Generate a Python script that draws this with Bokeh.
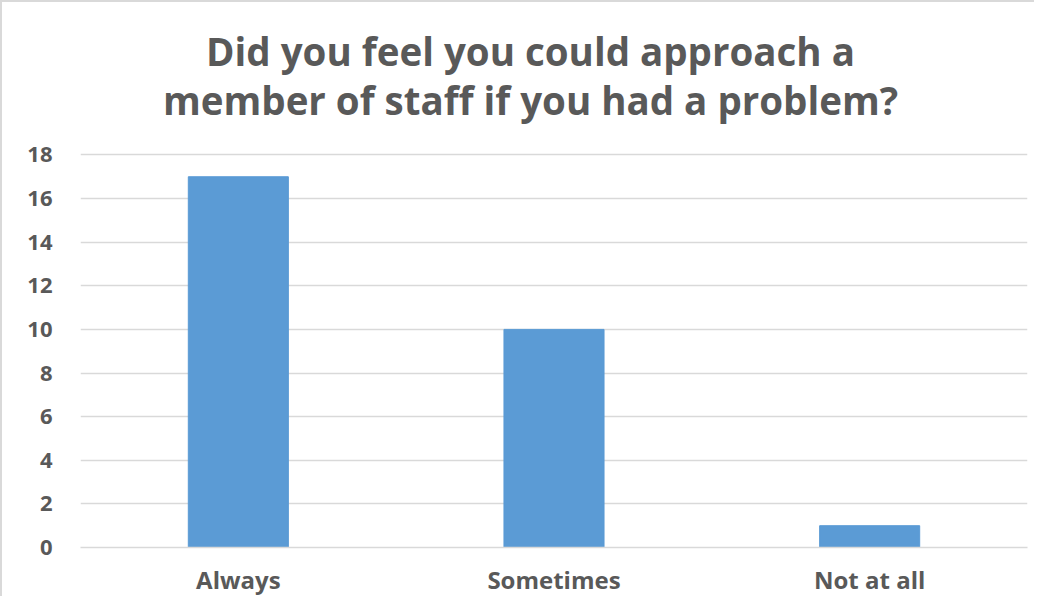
from bokeh.plotting import figure
from bokeh.models import Label, FactorRange, Range1d, FixedTicker
from bokeh.embed import file_html
from bokeh.resources import INLINE

categories = ["Always", "Sometimes", "Not at all"]
counts = [17, 10, 1]
y_ticks = [0, 2, 4, 6, 8, 10, 12, 14, 16, 18]
title_lines = ["Did you feel you could approach a", "member of staff if you had a problem?"]

GRAY = "#595959"
FONT = "Open Sans"

W, H = 1034, 596
TOP_SPACE = 153          # px above the value 18 used for the title
BOTTOM = 49
frame_h = H - BOTTOM     # frame covers the whole height above the x axis
y_end = max(y_ticks) * frame_h / (frame_h - TOP_SPACE)

p = figure(width=W, height=H, output_backend="svg", toolbar_location=None,
           x_range=FactorRange(factors=categories), y_range=Range1d(0, y_end),
           min_border_left=78, min_border_right=9, min_border_bottom=BOTTOM, min_border_top=0)
p.styles = {"border-top": "2px solid #d9d9d9", "border-left": "2px solid #d9d9d9"}
p.title = None

p.vbar(x=categories, top=counts, width=0.317, color="#5b9bd5")

for line, ypos in zip(title_lines, [frame_h - 50, frame_h - 99]):
    p.add_layout(Label(x=450, y=ypos, x_units="screen", y_units="screen", text=line,
                       text_align="center", text_baseline="alphabetic",
                       text_font=FONT, text_font_size="38.5px", text_font_style="bold",
                       text_color=GRAY))

p.xgrid.grid_line_color = None
p.ygrid.grid_line_color = "#d9d9d9"
p.ygrid.grid_line_width = 1.5
p.yaxis.ticker = FixedTicker(ticks=y_ticks)
p.outline_line_color = None

for ax in (p.xaxis, p.yaxis):
    ax.major_tick_line_color = None
    ax.minor_tick_line_color = None
    ax.major_label_text_font = FONT
    ax.major_label_text_font_style = "bold"
    ax.major_label_text_color = GRAY
p.yaxis.axis_line_color = None
p.xaxis.axis_line_color = "#d9d9d9"
p.xaxis.axis_line_width = 1.5
p.yaxis.major_label_text_font_size = "22px"
p.xaxis.major_label_text_font_size = "24px"
p.yaxis.major_label_standoff = 22
p.xaxis.major_label_standoff = 9

open("out.html", "w").write(file_html(p, INLINE))
